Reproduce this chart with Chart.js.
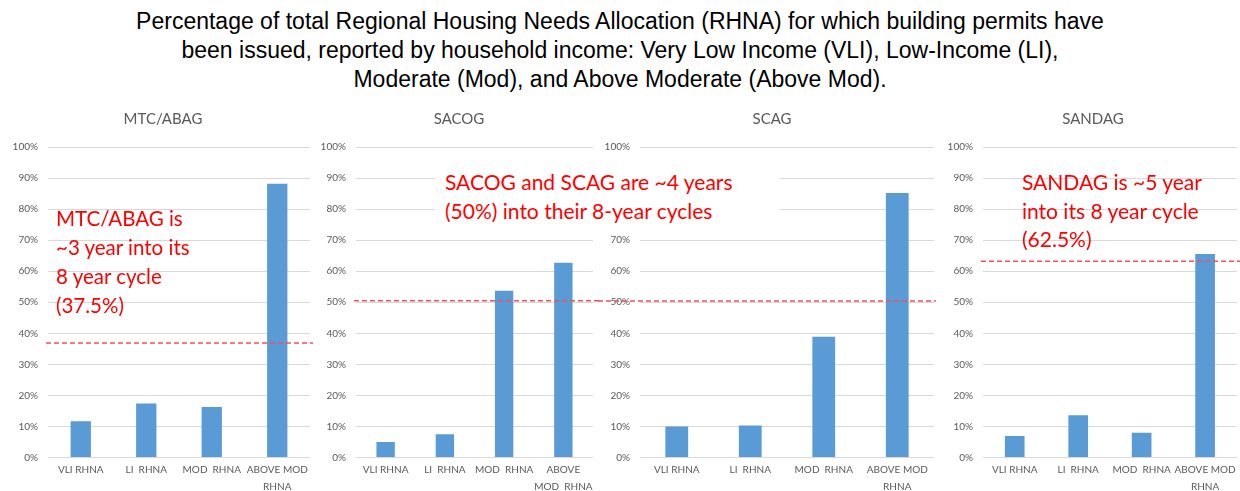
<!DOCTYPE html>
<html>
<head>
<meta charset="utf-8">
<script src="https://cdn.jsdelivr.net/npm/chart.js@4.4.1/dist/chart.umd.min.js"></script>
<style>
body { margin: 0; background: #fff; width: 1240px; height: 491px; overflow: hidden; position: relative; }
canvas { position: absolute; top: 100px; }
#title { position: absolute; left: 0; top: 7px; width: 1240px; text-align: center; font-family: "Liberation Sans", Arial, sans-serif; font-size: 23px; line-height: 29px; color: #000; }
.note { position: absolute; font-family: Lato, sans-serif; font-size: 21px; color: #ff0000; white-space: nowrap; }
</style>
</head>
<body>
<div id="title">Percentage of total Regional Housing Needs Allocation (RHNA) for which building permits have<br>been issued, reported by household income: Very Low Income (VLI), Low-Income (LI),<br>Moderate (Mod), and Above Moderate (Above Mod).</div>

<canvas id="mtc" width="313" height="391" style="left:0px"></canvas>
<canvas id="sacog" width="288" height="391" style="left:312px"></canvas>
<canvas id="scag" width="344" height="391" style="left:598px"></canvas>
<canvas id="sandag" width="300" height="391" style="left:940px"></canvas>

<div class="note" style="left:56px; top:204px; line-height:29px; font-size:20.5px;">MTC/ABAG is<br>~3 year into its<br>8 year cycle<br>(37.5%)</div>
<div class="note" style="left:435px; top:152px; width:345px; height:84px; padding-left:10px; padding-top:16px; box-sizing:border-box; line-height:28.5px; background:#fff;">SACOG and SCAG are ~4 years<br>(50%) into their 8-year cycles</div>
<div class="note" style="left:1022px; top:168px; line-height:28.5px;">SANDAG is ~5 year<br>into its 8 year cycle<br>(62.5%)</div>

<script>
var categories = ['VLI RHNA', 'LI  RHNA', 'MOD  RHNA', ['ABOVE MOD', 'RHNA']]
var sacogCategories = ['VLI RHNA', 'LI  RHNA', 'MOD  RHNA', ['ABOVE', 'MOD  RHNA']]

var mtcValues = [11.7, 17.4, 16.3, 88.2]
var sacogValues = [5.0, 7.5, 53.7, 62.7]
var scagValues = [10.0, 10.3, 38.9, 85.2]
var sandagValues = [6.9, 13.6, 8.0, 65.5]

// where each region sits in its 8 year cycle, as drawn
var mtcCycle = 36.9
var sacogCycle = 50.5
var scagCycle = 50.4
var sandagCycle = 63.2

var gray = '#595959'

function cycleLine(value, fromEdge, toEdge) {
    return {
        id: 'cycleLine',
        afterDatasetsDraw: function (chart) {
            var ctx = chart.ctx
            var area = chart.chartArea
            var y = chart.scales.y.getPixelForValue(value)
            var x0 = fromEdge ? 0 : area.left - 2
            var x1 = toEdge ? chart.width : area.right + 2
            ctx.save()
            ctx.strokeStyle = '#f2505e'
            ctx.lineWidth = 1.4
            ctx.setLineDash([5, 3])
            ctx.beginPath()
            ctx.moveTo(x0, y)
            ctx.lineTo(x1, y)
            ctx.stroke()
            ctx.restore()
        }
    }
}

// panel title, centred over axis labels + plot like the original
function panelTitle(name, x) {
    return {
        id: 'panelTitle',
        afterDraw: function (chart) {
            var ctx = chart.ctx
            ctx.save()
            ctx.fillStyle = gray
            ctx.font = '15px Lato'
            ctx.textAlign = 'center'
            ctx.textBaseline = 'middle'
            ctx.fillText(name, x, 19)
            ctx.restore()
        }
    }
}

function makeChart(id, name, titleX, labels, values, cycle, axisWidth, padRight, fromEdge, toEdge) {
    var ctx = document.getElementById(id).getContext('2d')
    return new Chart(ctx, {
        type: 'bar',
        data: {
            labels: labels,
            datasets: [{
                data: values,
                backgroundColor: '#5b9bd5',
                borderWidth: 0,
                barPercentage: 0.31,
                categoryPercentage: 1
            }]
        },
        options: {
            responsive: false,
            animation: false,
            layout: { padding: { left: 0, right: padRight, top: 47, bottom: 0 } },
            plugins: {
                legend: { display: false },
                tooltip: { enabled: false },
                title: { display: false }
            },
            scales: {
                x: {
                    grid: { display: false, drawTicks: false },
                    border: { display: false },
                    ticks: {
                        color: gray,
                        font: { family: 'Lato', size: 10, lineHeight: 1.7 },
                        padding: 4,
                        maxRotation: 0,
                        autoSkip: false
                    },
                    afterFit: function (scale) { scale.height = 33.5 }
                },
                y: {
                    min: 0,
                    max: 100,
                    grid: { color: '#d9d9d9', drawTicks: false },
                    border: { display: false },
                    ticks: {
                        stepSize: 10,
                        color: gray,
                        padding: 10,
                        font: { family: 'Lato', size: 10 },
                        callback: function (v) { return v + '%' }
                    },
                    afterFit: function (scale) { scale.width = axisWidth }
                }
            }
        },
        plugins: [cycleLine(cycle, fromEdge, toEdge), panelTitle(name, titleX)]
    })
}

makeChart('mtc', 'MTC/ABAG', 163, categories, mtcValues, mtcCycle, 48, 3, false, true)
makeChart('sacog', 'SACOG', 147, sacogCategories, sacogValues, sacogCycle, 44, 7, false, true)
makeChart('scag', 'SCAG', 174, categories, scagValues, scagCycle, 42, 8, true, false)
makeChart('sandag', 'SANDAG', 153, categories, sandagValues, sandagCycle, 43, 3, false, true)
</script>
</body>
</html>
